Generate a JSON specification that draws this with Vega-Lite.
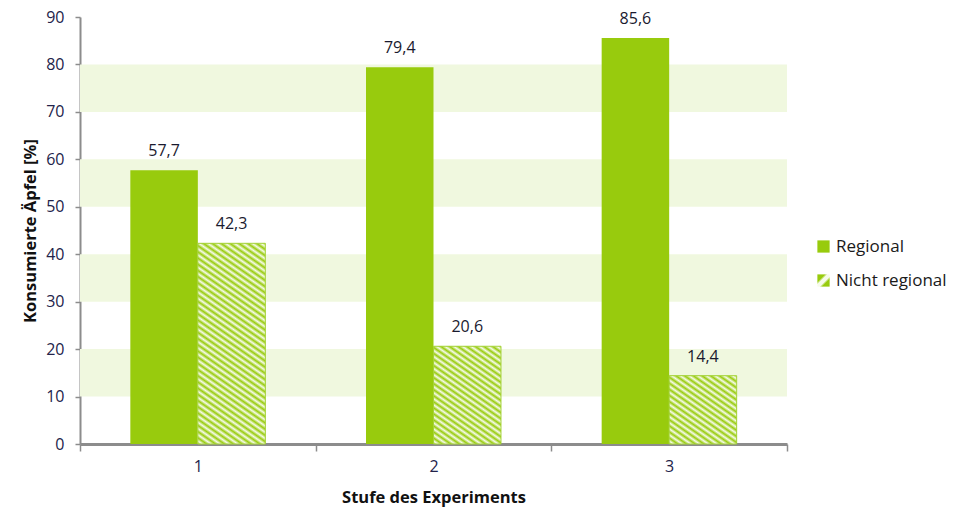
{
  "$schema": "https://vega.github.io/schema/vega-lite/v6.json",
  "autosize": "none",
  "width": 707,
  "height": 427,
  "padding": {"left": 80, "top": 17, "right": 174, "bottom": 65},
  "config": {
    "view": {"stroke": null},
    "font": "Open Sans",
    "locale": {"number": {"decimal": ",", "thousands": ".", "grouping": [3], "currency": ["", " €"]}},
    "axis": {"domainColor": "#8c8c8c", "domainWidth": 2, "tickColor": "#8c8c8c", "tickWidth": 1.5, "labelFontSize": 16, "labelColor": "#23234a", "titleFontWeight": "bold", "titleColor": "#111111", "titleFontSize": 16.5, "grid": false},
    "axisX": {"labelAngle": 0, "tickBand": "extent", "tickSize": 7, "labelPadding": 7, "titlePadding": 15, "domainWidth": 3},
    "axisY": {"tickSize": 5, "labelPadding": 11, "titlePadding": 7, "tickCount": 10}
  },
  "data": {"values": [
    {"stufe": "1", "serie": "Regional", "wert": 57.7},
    {"stufe": "1", "serie": "Nicht regional", "wert": 42.3},
    {"stufe": "2", "serie": "Regional", "wert": 79.4},
    {"stufe": "2", "serie": "Nicht regional", "wert": 20.6},
    {"stufe": "3", "serie": "Regional", "wert": 85.6},
    {"stufe": "3", "serie": "Nicht regional", "wert": 14.4}
  ]},
  "layer": [
    {
      "data": {"values": [{"lo": 10, "hi": 20}, {"lo": 30, "hi": 40}, {"lo": 50, "hi": 60}, {"lo": 70, "hi": 80}]},
      "mark": {"type": "rect", "color": "#f0f8df"},
      "encoding": {
        "y": {"field": "lo", "type": "quantitative", "scale": {"domain": [0, 90], "nice": false}, "title": "Konsumierte Äpfel [%]"},
        "y2": {"field": "hi"}
      }
    },
    {
      "mark": {"type": "bar"},
      "encoding": {
        "x": {"field": "stufe", "type": "nominal", "title": "Stufe des Experiments", "scale": {"paddingInner": 0, "paddingOuter": 0}},
        "xOffset": {"field": "serie", "type": "nominal", "sort": ["Regional", "Nicht regional"], "scale": {"paddingInner": 0, "paddingOuter": 0.7457}},
        "y": {"field": "wert", "type": "quantitative", "scale": {"domain": [0, 90], "nice": false}, "title": "Konsumierte Äpfel [%]"},
        "fill": {"field": "serie", "type": "nominal", "scale": {"domain": ["Regional", "Nicht regional"], "range": ["#98cb0d", {"expr": "{gradient: 'linear', x1: 0, y1: 0, x2: 1, y2: 1, stops: [{offset: 0, color: '#98cb0d'}, {offset: 0.3, color: '#98cb0d'}, {offset: 0.42, color: '#f6fbea'}, {offset: 0.58, color: '#f6fbea'}, {offset: 0.7, color: '#98cb0d'}, {offset: 1, color: '#98cb0d'}]}"}]},
          "legend": {"title": null, "orient": "none", "legendX": 735, "legendY": 221, "symbolType": "square", "symbolSize": 150, "labelFontSize": 17, "labelColor": "#1a1a1a", "rowPadding": 16, "labelOffset": 4, "padding": 0, "symbolStrokeWidth": 0}
        }
      }
    },
    {
      "transform": [{"filter": "datum.stufe === '1' && datum.serie === 'Nicht regional'"}],
      "mark": {"type": "bar", "stroke": "#a5d33a", "strokeWidth": 1, "fill": {"gradient": "linear", "x1": 1, "y1": 0, "x2": 0.7245, "y2": 1.1705, "stops": [
        {"offset": 0, "color": "#98cb0d"}, {"offset": 0.0125, "color": "#f6fbea"}, {"offset": 0.025, "color": "#98cb0d"}, {"offset": 0.0375, "color": "#f6fbea"},
        {"offset": 0.05, "color": "#98cb0d"}, {"offset": 0.0625, "color": "#f6fbea"}, {"offset": 0.075, "color": "#98cb0d"}, {"offset": 0.0875, "color": "#f6fbea"},
        {"offset": 0.1, "color": "#98cb0d"}, {"offset": 0.1125, "color": "#f6fbea"}, {"offset": 0.125, "color": "#98cb0d"}, {"offset": 0.1375, "color": "#f6fbea"},
        {"offset": 0.15, "color": "#98cb0d"}, {"offset": 0.1625, "color": "#f6fbea"}, {"offset": 0.175, "color": "#98cb0d"}, {"offset": 0.1875, "color": "#f6fbea"},
        {"offset": 0.2, "color": "#98cb0d"}, {"offset": 0.2125, "color": "#f6fbea"}, {"offset": 0.225, "color": "#98cb0d"}, {"offset": 0.2375, "color": "#f6fbea"},
        {"offset": 0.25, "color": "#98cb0d"}, {"offset": 0.2625, "color": "#f6fbea"}, {"offset": 0.275, "color": "#98cb0d"}, {"offset": 0.2875, "color": "#f6fbea"},
        {"offset": 0.3, "color": "#98cb0d"}, {"offset": 0.3125, "color": "#f6fbea"}, {"offset": 0.325, "color": "#98cb0d"}, {"offset": 0.3375, "color": "#f6fbea"},
        {"offset": 0.35, "color": "#98cb0d"}, {"offset": 0.3625, "color": "#f6fbea"}, {"offset": 0.375, "color": "#98cb0d"}, {"offset": 0.3875, "color": "#f6fbea"},
        {"offset": 0.4, "color": "#98cb0d"}, {"offset": 0.4125, "color": "#f6fbea"}, {"offset": 0.425, "color": "#98cb0d"}, {"offset": 0.4375, "color": "#f6fbea"},
        {"offset": 0.45, "color": "#98cb0d"}, {"offset": 0.4625, "color": "#f6fbea"}, {"offset": 0.475, "color": "#98cb0d"}, {"offset": 0.4875, "color": "#f6fbea"},
        {"offset": 0.5, "color": "#98cb0d"}, {"offset": 0.5125, "color": "#f6fbea"}, {"offset": 0.525, "color": "#98cb0d"}, {"offset": 0.5375, "color": "#f6fbea"},
        {"offset": 0.55, "color": "#98cb0d"}, {"offset": 0.5625, "color": "#f6fbea"}, {"offset": 0.575, "color": "#98cb0d"}, {"offset": 0.5875, "color": "#f6fbea"},
        {"offset": 0.6, "color": "#98cb0d"}, {"offset": 0.6125, "color": "#f6fbea"}, {"offset": 0.625, "color": "#98cb0d"}, {"offset": 0.6375, "color": "#f6fbea"},
        {"offset": 0.65, "color": "#98cb0d"}, {"offset": 0.6625, "color": "#f6fbea"}, {"offset": 0.675, "color": "#98cb0d"}, {"offset": 0.6875, "color": "#f6fbea"},
        {"offset": 0.7, "color": "#98cb0d"}, {"offset": 0.7125, "color": "#f6fbea"}, {"offset": 0.725, "color": "#98cb0d"}, {"offset": 0.7375, "color": "#f6fbea"},
        {"offset": 0.75, "color": "#98cb0d"}, {"offset": 0.7625, "color": "#f6fbea"}, {"offset": 0.775, "color": "#98cb0d"}, {"offset": 0.7875, "color": "#f6fbea"},
        {"offset": 0.8, "color": "#98cb0d"}, {"offset": 0.8125, "color": "#f6fbea"}, {"offset": 0.825, "color": "#98cb0d"}, {"offset": 0.8375, "color": "#f6fbea"},
        {"offset": 0.85, "color": "#98cb0d"}, {"offset": 0.8625, "color": "#f6fbea"}, {"offset": 0.875, "color": "#98cb0d"}, {"offset": 0.8875, "color": "#f6fbea"},
        {"offset": 0.9, "color": "#98cb0d"}, {"offset": 0.9125, "color": "#f6fbea"}, {"offset": 0.925, "color": "#98cb0d"}, {"offset": 0.9375, "color": "#f6fbea"},
        {"offset": 0.95, "color": "#98cb0d"}, {"offset": 0.9625, "color": "#f6fbea"}, {"offset": 0.975, "color": "#98cb0d"}, {"offset": 0.9875, "color": "#f6fbea"},
        {"offset": 1, "color": "#98cb0d"}]}},
      "encoding": {
        "x": {"field": "stufe", "type": "nominal"},
        "xOffset": {"field": "serie", "type": "nominal", "sort": ["Regional", "Nicht regional"]},
        "y": {"field": "wert", "type": "quantitative", "title": "Konsumierte Äpfel [%]"}
      }
    },
    {
      "transform": [{"filter": "datum.stufe === '2' && datum.serie === 'Nicht regional'"}],
      "mark": {"type": "bar", "stroke": "#a5d33a", "strokeWidth": 1, "fill": {"gradient": "linear", "x1": 1, "y1": 0, "x2": 0.4185, "y2": 1.2024, "stops": [
        {"offset": 0, "color": "#98cb0d"}, {"offset": 0.0208, "color": "#f6fbea"}, {"offset": 0.0417, "color": "#98cb0d"}, {"offset": 0.0625, "color": "#f6fbea"},
        {"offset": 0.0833, "color": "#98cb0d"}, {"offset": 0.1042, "color": "#f6fbea"}, {"offset": 0.125, "color": "#98cb0d"}, {"offset": 0.1458, "color": "#f6fbea"},
        {"offset": 0.1667, "color": "#98cb0d"}, {"offset": 0.1875, "color": "#f6fbea"}, {"offset": 0.2083, "color": "#98cb0d"}, {"offset": 0.2292, "color": "#f6fbea"},
        {"offset": 0.25, "color": "#98cb0d"}, {"offset": 0.2708, "color": "#f6fbea"}, {"offset": 0.2917, "color": "#98cb0d"}, {"offset": 0.3125, "color": "#f6fbea"},
        {"offset": 0.3333, "color": "#98cb0d"}, {"offset": 0.3542, "color": "#f6fbea"}, {"offset": 0.375, "color": "#98cb0d"}, {"offset": 0.3958, "color": "#f6fbea"},
        {"offset": 0.4167, "color": "#98cb0d"}, {"offset": 0.4375, "color": "#f6fbea"}, {"offset": 0.4583, "color": "#98cb0d"}, {"offset": 0.4792, "color": "#f6fbea"},
        {"offset": 0.5, "color": "#98cb0d"}, {"offset": 0.5208, "color": "#f6fbea"}, {"offset": 0.5417, "color": "#98cb0d"}, {"offset": 0.5625, "color": "#f6fbea"},
        {"offset": 0.5833, "color": "#98cb0d"}, {"offset": 0.6042, "color": "#f6fbea"}, {"offset": 0.625, "color": "#98cb0d"}, {"offset": 0.6458, "color": "#f6fbea"},
        {"offset": 0.6667, "color": "#98cb0d"}, {"offset": 0.6875, "color": "#f6fbea"}, {"offset": 0.7083, "color": "#98cb0d"}, {"offset": 0.7292, "color": "#f6fbea"},
        {"offset": 0.75, "color": "#98cb0d"}, {"offset": 0.7708, "color": "#f6fbea"}, {"offset": 0.7917, "color": "#98cb0d"}, {"offset": 0.8125, "color": "#f6fbea"},
        {"offset": 0.8333, "color": "#98cb0d"}, {"offset": 0.8542, "color": "#f6fbea"}, {"offset": 0.875, "color": "#98cb0d"}, {"offset": 0.8958, "color": "#f6fbea"},
        {"offset": 0.9167, "color": "#98cb0d"}, {"offset": 0.9375, "color": "#f6fbea"}, {"offset": 0.9583, "color": "#98cb0d"}, {"offset": 0.9792, "color": "#f6fbea"},
        {"offset": 1, "color": "#98cb0d"}]}},
      "encoding": {
        "x": {"field": "stufe", "type": "nominal"},
        "xOffset": {"field": "serie", "type": "nominal", "sort": ["Regional", "Nicht regional"]},
        "y": {"field": "wert", "type": "quantitative", "title": "Konsumierte Äpfel [%]"}
      }
    },
    {
      "transform": [{"filter": "datum.stufe === '3' && datum.serie === 'Nicht regional'"}],
      "mark": {"type": "bar", "stroke": "#a5d33a", "strokeWidth": 1, "fill": {"gradient": "linear", "x1": 1, "y1": 0, "x2": 0.2084, "y2": 1.1442, "stops": [
        {"offset": 0, "color": "#98cb0d"}, {"offset": 0.0263, "color": "#f6fbea"}, {"offset": 0.0526, "color": "#98cb0d"}, {"offset": 0.0789, "color": "#f6fbea"},
        {"offset": 0.1053, "color": "#98cb0d"}, {"offset": 0.1316, "color": "#f6fbea"}, {"offset": 0.1579, "color": "#98cb0d"}, {"offset": 0.1842, "color": "#f6fbea"},
        {"offset": 0.2105, "color": "#98cb0d"}, {"offset": 0.2368, "color": "#f6fbea"}, {"offset": 0.2632, "color": "#98cb0d"}, {"offset": 0.2895, "color": "#f6fbea"},
        {"offset": 0.3158, "color": "#98cb0d"}, {"offset": 0.3421, "color": "#f6fbea"}, {"offset": 0.3684, "color": "#98cb0d"}, {"offset": 0.3947, "color": "#f6fbea"},
        {"offset": 0.4211, "color": "#98cb0d"}, {"offset": 0.4474, "color": "#f6fbea"}, {"offset": 0.4737, "color": "#98cb0d"}, {"offset": 0.5, "color": "#f6fbea"},
        {"offset": 0.5263, "color": "#98cb0d"}, {"offset": 0.5526, "color": "#f6fbea"}, {"offset": 0.5789, "color": "#98cb0d"}, {"offset": 0.6053, "color": "#f6fbea"},
        {"offset": 0.6316, "color": "#98cb0d"}, {"offset": 0.6579, "color": "#f6fbea"}, {"offset": 0.6842, "color": "#98cb0d"}, {"offset": 0.7105, "color": "#f6fbea"},
        {"offset": 0.7368, "color": "#98cb0d"}, {"offset": 0.7632, "color": "#f6fbea"}, {"offset": 0.7895, "color": "#98cb0d"}, {"offset": 0.8158, "color": "#f6fbea"},
        {"offset": 0.8421, "color": "#98cb0d"}, {"offset": 0.8684, "color": "#f6fbea"}, {"offset": 0.8947, "color": "#98cb0d"}, {"offset": 0.9211, "color": "#f6fbea"},
        {"offset": 0.9474, "color": "#98cb0d"}, {"offset": 0.9737, "color": "#f6fbea"}, {"offset": 1, "color": "#98cb0d"}]}},
      "encoding": {
        "x": {"field": "stufe", "type": "nominal"},
        "xOffset": {"field": "serie", "type": "nominal", "sort": ["Regional", "Nicht regional"]},
        "y": {"field": "wert", "type": "quantitative", "title": "Konsumierte Äpfel [%]"}
      }
    },
    {
      "mark": {"type": "text", "dy": -19, "fontSize": 16, "color": "#1a1a2e"},
      "encoding": {
        "x": {"field": "stufe", "type": "nominal"},
        "xOffset": {"field": "serie", "type": "nominal", "sort": ["Regional", "Nicht regional"]},
        "y": {"field": "wert", "type": "quantitative", "title": "Konsumierte Äpfel [%]"},
        "text": {"field": "wert", "type": "quantitative", "format": ".1f"}
      }
    }
  ]
}
